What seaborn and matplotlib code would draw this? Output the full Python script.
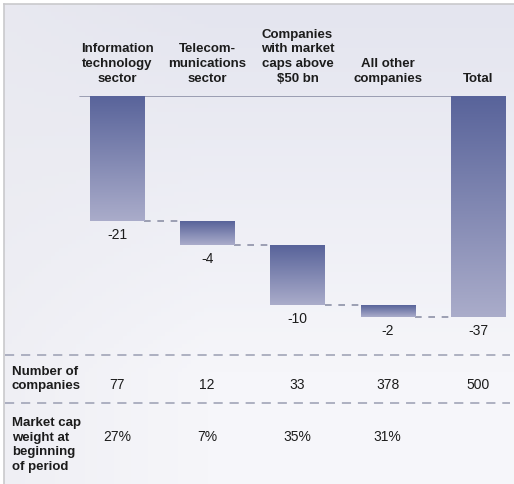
import numpy as np
import pandas as pd
import matplotlib
matplotlib.use("Agg")
import matplotlib.pyplot as plt
import matplotlib.transforms as mtransforms
from matplotlib.colors import LinearSegmentedColormap, to_rgb
from matplotlib.lines import Line2D
import seaborn as sns

# ---- data -------------------------------------------------------------
categories = [
    "Information\ntechnology\nsector",
    "Telecom-\nmunications\nsector",
    "Companies\nwith market\ncaps above\n\\$50 bn",
    "All other\ncompanies",
    "Total",
]
changes = [-21, -4, -10, -2, -37]
is_total = [False, False, False, False, True]
num_companies = ["77", "12", "33", "378", "500"]
cap_weight = ["27%", "7%", "35%", "31%", ""]
row_labels = ["Number of\ncompanies", "Market cap\nweight at\nbeginning\nof period"]

# waterfall starting levels
starts = []
running = 0
for c, tot in zip(changes, is_total):
    if tot:
        starts.append(0)
    else:
        starts.append(running)
        running += c
ends = [s + c for s, c in zip(starts, changes)]

df = pd.DataFrame({"sector": categories, "change": changes, "start": starts})

# ---- style ------------------------------------------------------------
sns.set_style("white")
plt.rcParams["font.family"] = ["Liberation Sans", "DejaVu Sans"]
TXT = "#1c1c1c"
W, H = 514, 484
fig = plt.figure(figsize=(W / 100, H / 100), dpi=100)
fig.patch.set_facecolor("white")

# soft background panel
bg = fig.add_axes([4 / W, 0, (W - 4) / W, (H - 4) / H], zorder=-5)
ny, nx = 120, 120
yy, xx = np.mgrid[0:1:ny * 1j, 0:1:nx * 1j]
c_top = np.array(to_rgb("#e4e5ef"))
c_mid = np.array(to_rgb("#f6f6fa"))
c_left = np.array(to_rgb("#ebebf1"))
t = np.clip(yy * 1.3, 0, 1)[..., None]
img = c_top * (1 - t) + c_mid * t
lf = np.clip(1 - xx * 2.5, 0, 1)[..., None] * 0.6
img = img * (1 - lf) + c_left * lf
bg.imshow(img, aspect="auto", extent=(0, 1, 0, 1), origin="upper")
bg.set_xlim(0, 1)
bg.set_ylim(0, 1)
bg.set_xticks([])
bg.set_yticks([])
for side in ["right", "bottom"]:
    bg.spines[side].set_visible(False)
for side in ["left", "top"]:
    bg.spines[side].set_color("#c9c9cc")
    bg.spines[side].set_linewidth(1.2)

# ---- bars -------------------------------------------------------------
spacing = 90.25
left_px = 117 - 0.5 * spacing
ax = fig.add_axes([left_px / W, (H - 317) / H, (W - left_px) / W, 221 / H])
ax.patch.set_alpha(0)

sns.barplot(data=df, x="sector", y="change", order=categories,
            bottom=np.array(starts, dtype=float), width=0.6,
            color="#6f78a8", saturation=1, ax=ax, zorder=3)

# vertical gradient fill, dark at the top of each bar
cmap = LinearSegmentedColormap.from_list("barfade", ["#58639a", "#aaacca"])
grad = np.linspace(0, 1, 256)[:, None]
for p in list(ax.patches):
    x0, w = p.get_x(), p.get_width()
    y0, h = p.get_y(), p.get_height()
    top, bot = max(y0, y0 + h), min(y0, y0 + h)
    p.set_facecolor("none")
    p.set_edgecolor("none")
    im = ax.imshow(grad, cmap=cmap, aspect="auto", origin="upper",
                   extent=(x0, x0 + w, bot, top), zorder=3)
    im.set_clip_path(p)
ax.set_xlim(-0.5, (W - left_px) / spacing - 0.5)
ax.set_ylim(min(ends), 0)
ax.set_aspect("auto")

# baseline at zero
ax.axhline(0, xmin=(80 - left_px) / (W - left_px), xmax=(505 - left_px) / (W - left_px),
           color="#8d91a7", lw=1.2, zorder=1)

# dashed connectors between consecutive bars
half = 0.3
for i in range(len(changes) - 1):
    ax.plot([i + half, i + 1 - half], [ends[i], ends[i]], color="#8d91a7",
            lw=1.2, ls=(0, (4, 4)), zorder=2, clip_on=False)

# value labels under each bar
for i, (e, c) in enumerate(zip(ends, changes)):
    ax.annotate(f"{c}", xy=(i, e), xytext=(0, -10),
                textcoords="offset points", ha="center", va="center",
                fontsize=10, color=TXT, annotation_clip=False)

# column headers on top
ax.xaxis.tick_top()
ax.tick_params(axis="x", top=True, bottom=False, labeltop=True, labelbottom=False,
               length=0, pad=8)
ax.set_xticks(range(len(categories)))
ax.set_xticklabels(categories, fontsize=9.5, fontweight="bold", color=TXT,
                   linespacing=1.3)
ax.set_yticks([])
ax.set_xlabel("")
ax.set_ylabel("")
for s in ax.spines.values():
    s.set_visible(False)

# ---- table below the chart -------------------------------------------
for ypx in (355, 403):
    fig.add_artist(Line2D([5 / W, 510 / W], [1 - ypx / H] * 2, color="#9a9eb2",
                          lw=1.1, ls=(0, (6, 4.5))))

blend = mtransforms.blended_transform_factory(ax.transData, fig.transFigure)
fig.text(12 / W, 1 - 379 / H, row_labels[0], ha="left", va="center",
         fontsize=9.5, fontweight="bold", color=TXT, linespacing=1.3)
fig.text(12 / W, 1 - 445 / H, row_labels[1], ha="left", va="center",
         fontsize=9.5, fontweight="bold", color=TXT, linespacing=1.3)
for i, (n, wgt) in enumerate(zip(num_companies, cap_weight)):
    ax.text(i, 1 - 385 / H, n, transform=blend, ha="center", va="center",
            fontsize=10, color=TXT)
    if wgt:
        ax.text(i, 1 - 437 / H, wgt, transform=blend, ha="center", va="center",
                fontsize=10, color=TXT)

fig.savefig("out.png", dpi=100)
